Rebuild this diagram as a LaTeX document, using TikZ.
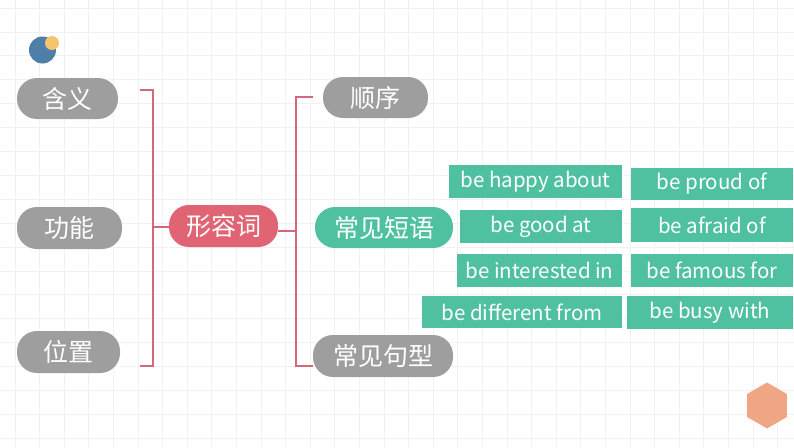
\documentclass[tikz,border=0pt]{standalone}
\usepackage{fontspec}
\setmainfont{Noto Sans CJK SC}
\usetikzlibrary{shapes.geometric}
\definecolor{pillgray}{HTML}{9E9E9E}
\definecolor{pillred}{HTML}{E06473}
\definecolor{pillgreen}{HTML}{4FC1A0}
\definecolor{brk}{HTML}{D5677A}
\definecolor{gridc}{HTML}{F1F1F1}
\definecolor{dotblue}{HTML}{4E7FA8}
\definecolor{dotyellow}{HTML}{F4C46E}
\definecolor{hexc}{HTML}{F0A584}
\begin{document}
\begin{tikzpicture}[x=1pt,y=-1pt,
  pill/.style={rounded corners=20pt, text=white, font=\fontsize{25}{29}\selectfont, inner sep=0pt, minimum height=41pt},
  phrase/.style={fill=pillgreen, text=white, font=\fontsize{20.5}{24}\selectfont, inner sep=0pt, minimum height=33pt},
  br/.style={draw=brk, line width=1.8pt}]
\useasboundingbox (0,0) rectangle (794,447);
\fill[white] (0,0) rectangle (794,447);
% grid
\foreach \i in {0,...,33} \draw[gridc, line width=0.7pt] ({-9.6+24.6*\i},0) -- ({-9.6+24.6*\i},447);
\foreach \j in {0,...,19} \draw[gridc, line width=0.7pt] (0,{-15.9+23.9*\j}) -- (794,{-15.9+23.9*\j});
% decorations
\fill[dotblue] (42.5,50) circle (13.5pt);
\fill[dotyellow] (52,43) circle (7pt);
\node[regular polygon, regular polygon sides=6, shape border rotate=30, minimum size=46pt, inner sep=0pt, fill=hexc] (hex) at (767,405.5) {};
% left nodes
\node[pill, fill=pillgray, minimum width=101pt] (hy) at (67.5,98.5) {含义};
\node[pill, fill=pillgray, minimum width=105pt, minimum height=42pt] (gn) at (69.5,228) {功能};
\node[pill, fill=pillgray, minimum width=103pt, minimum height=42pt] (wz) at (68.5,352) {位置};
% centre
\node[pill, fill=pillred, minimum width=109pt, minimum height=42pt] (xr) at (223.5,226) {形容词};
% right nodes
\node[pill, fill=pillgray, minimum width=105pt] (sx) at (375.5,97.5) {顺序};
\node[pill, fill=pillgreen, minimum width=138pt] (cy) at (384,227.5) {常见短语};
\node[pill, fill=pillgray, minimum width=140pt, minimum height=42pt] (jx) at (383,356) {常见句型};
% phrases
\node[phrase, minimum width=173pt] (p1) at (535.5,181.5) {be happy about};
\node[phrase, minimum width=162pt, minimum height=32pt] (p2) at (712,184) {be proud of};
\node[phrase, minimum width=162pt] (p3) at (541,226.5) {be good at};
\node[phrase, minimum width=162pt, minimum height=34pt] (p4) at (712,225) {be afraid of};
\node[phrase, minimum width=165pt] (p5) at (539.5,270.5) {be interested in};
\node[phrase, minimum width=162pt] (p6) at (712,270.5) {be famous for};
\node[phrase, minimum width=200pt, minimum height=32pt] (p7) at (522,312) {be different from};
\node[phrase, minimum width=166pt] (p8) at (710,312.5) {be busy with};
% left bracket
\coordinate (lm) at (153,227);
\coordinate (lt) at (140,90);
\coordinate (lb) at (140,366);
\draw[br] (xr.west |- lm) -- (lm);
\draw[br] (lt) -- (lt -| lm) -- (lb -| lm) -- (lb);
% right bracket
\coordinate (rm) at (296,231);
\coordinate (rt) at (313,97);
\coordinate (rb) at (313,366);
\draw[br] (xr.east |- rm) -- (rm);
\draw[br] (rt) -- (rt -| rm) -- (rb -| rm) -- (rb);
\end{tikzpicture}
\end{document}
